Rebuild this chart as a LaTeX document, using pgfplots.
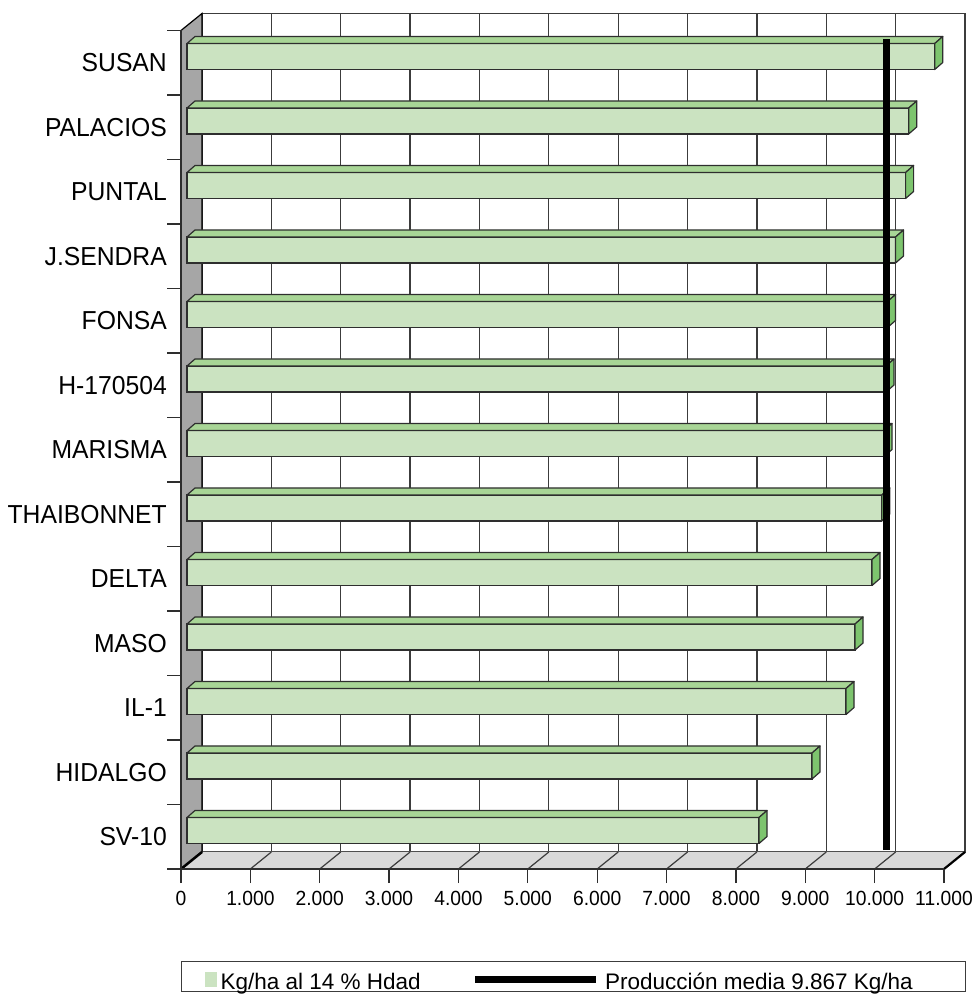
\documentclass[border=0pt]{standalone}
\usepackage{pgfplots}
\pgfplotsset{compat=1.18}
\usepackage{pgfplotstable}
\usepackage{fontspec}
\setmainfont{Liberation Sans}
\newfontfamily\catfont[FakeStretch=0.95]{Liberation Sans}
\newfontfamily\tickfont[FakeStretch=0.94]{Liberation Sans}
\newfontfamily\legfont{Liberation Sans}
\definecolor{barfront}{HTML}{CBE3C1}
\definecolor{bartop}{HTML}{A8D596}
\definecolor{barside}{HTML}{7DC46E}
\definecolor{edge}{HTML}{2E2E2E}
\definecolor{wallc}{HTML}{A6A6A6}
\definecolor{floorc}{HTML}{D9D9D9}
\definecolor{gridc}{HTML}{3C3C3C}

\pgfplotstableread{
name val
SV-10 8247
HIDALGO 9011
IL-1 9501
MASO 9631
DELTA 9876
THAIBONNET 10018
MARISMA 10049
H-170504 10078
FONSA 10100
J.SENDRA 10215
PUNTAL 10360
PALACIOS 10405
SUSAN 10780
}\yieldtable

\pgfplotsset{geom/.style={scale only axis, width=763pt, height=838.5pt,
  xmin=0, xmax=11000, ymin=0, ymax=13, anchor=south west,
  scaled x ticks=false, scaled y ticks=false}}

\begin{document}
\begin{tikzpicture}
\path[use as bounding box] (0,0) rectangle (976pt,997pt);
% back plane
\begin{axis}[geom, at={(202pt,145pt)}, xtick={0,1000,...,11000}, ytick=\empty,
  xticklabel=\empty, xmajorgrids, grid style={gridc, line width=1.2pt},
  axis line style={gridc, line width=1.2pt}, major tick length=0pt]
\end{axis}
% floor
\fill[floorc] (181pt,128pt) -- (202pt,145pt) -- (965pt,145pt) -- (944pt,128pt) -- cycle;
\foreach \k in {1,...,10}
  \draw[gridc, line width=1.2pt] ({181pt+69.3636pt*\k},128pt) -- ({202pt+69.3636pt*\k},145pt);
\draw[black, line width=2.2pt] (944pt,128pt) -- (965pt,145pt);
% wall
\filldraw[fill=wallc, draw=black, line width=1.2pt] (181pt,128pt) -- (181pt,966.5pt) -- (202pt,983.5pt) -- (202pt,145pt) -- cycle;
\draw[black, line width=2.5pt] (181pt,128pt) -- (181pt,966.5pt);
\draw[black, line width=2.5pt] (181pt,128pt) -- (202pt,145pt);
% bars
\begin{axis}[geom, at={(187pt,134.25pt)}, hide axis, clip=false]
\addplot[xbar, bar width=26pt, fill=barfront, draw=edge, line width=1.2pt]
  table[x=val, y expr=\coordindex+0.5] {\yieldtable};
\pgfplotsinvokeforeach{0,...,12}{
  \pgfplotstablegetelem{#1}{val}\of\yieldtable
  \pgfmathsetmacro\va{\pgfplotsretval}
  \pgfmathsetmacro\vb{\pgfplotsretval+115.3}
  \pgfmathsetmacro\yt{#1+0.5+0.2016}
  \pgfmathsetmacro\ytt{#1+0.5+0.2016+0.1085}
  \pgfmathsetmacro\yb{#1+0.5-0.2016}
  \pgfmathsetmacro\ybb{#1+0.5-0.2016+0.1085}
  \edef\temp{\noexpand\addplot[fill=bartop, draw=edge, line width=1.2pt, line join=round]
      coordinates {(0,\yt) (\va,\yt) (\vb,\ytt) (115.3,\ytt)} -- cycle;
    \noexpand\addplot[fill=barside, draw=edge, line width=1.2pt, line join=round]
      coordinates {(\va,\yt) (\vb,\ytt) (\vb,\ybb) (\va,\yb)} -- cycle;}
  \temp
}
\end{axis}
% mean line
\begin{axis}[geom, at={(202pt,145pt)}, hide axis, clip=false]
\addplot[black, line width=7pt] coordinates {(9867,0.03) (9867,12.6)};
\end{axis}
% front axis
\begin{axis}[geom, at={(181pt,128pt)},
  axis x line*=bottom, axis y line*=left,
  axis line style={edge, line width=1.2pt},
  tick align=outside, major tick length=14pt,
  tick style={edge, line width=1.2pt},
  xtick={0,1000,...,11000},
  ytick={0,...,13}, yticklabels={},
  extra y ticks={0.5,1.5,...,12.5},
  extra y tick labels={SV-10,HIDALGO,IL-1,MASO,DELTA,THAIBONNET,MARISMA,H-170504,FONSA,J.SENDRA,PUNTAL,PALACIOS,SUSAN},
  extra y tick style={tick style={draw=none}},
  yticklabel style={font=\catfont\fontsize{26}{26}\selectfont, inner sep=0pt},
  xticklabel style={font=\tickfont\fontsize{20.5}{21}\selectfont, inner sep=0pt, yshift=-8pt},
  /pgf/number format/.cd, 1000 sep={.}, assume math mode=true, /pgfplots/.cd,
  legend style={at={(0,-0.10972)}, anchor=north west, draw=gridc, line width=1.2pt,
    inner sep=0pt, font=\legfont\fontsize{22.5}{23}\selectfont,
    nodes={inner sep=0pt}, column sep=0pt},
  legend columns=2]
\addlegendimage{legend image code/.code={\fill[barfront, draw=none] (23pt,-11pt) rectangle (35pt,4pt); \path[draw=none] (0pt,0pt) -- (39pt,0pt);}}
\addlegendentry{\makebox[251pt][l]{\rule[-14pt]{0pt}{42pt}Kg/ha al 14 \% Hdad}}
\addlegendimage{legend image code/.code={\draw[black, line width=7pt] (0pt,-3.5pt) -- (121pt,-3.5pt); \path[draw=none] (0pt,0pt) -- (130pt,0pt);}}
\addlegendentry{\makebox[360pt][l]{\rule[-14pt]{0pt}{42pt}Producción media 9.867 Kg/ha}}
\end{axis}
\end{tikzpicture}
\end{document}
